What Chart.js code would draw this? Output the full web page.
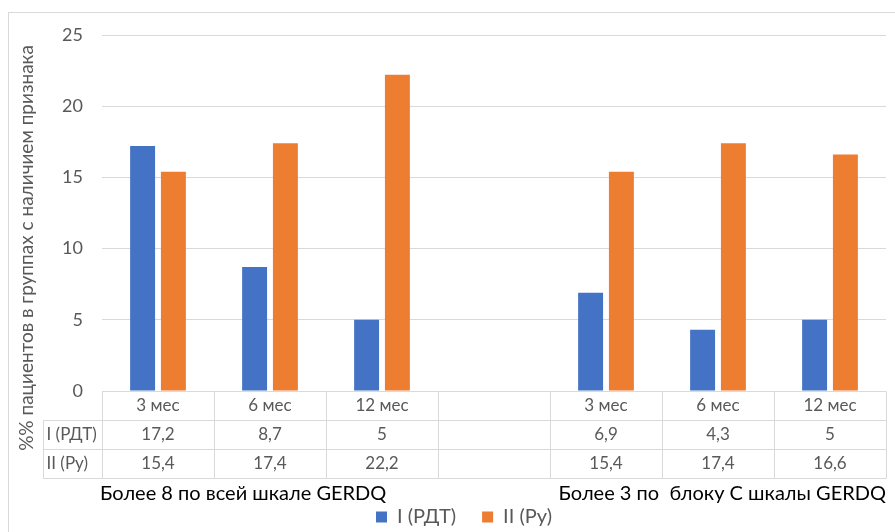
<!DOCTYPE html>
<html>
<head>
<meta charset="utf-8">
<script src="https://cdn.jsdelivr.net/npm/chart.js@4.4.1/dist/chart.umd.min.js"></script>
<style>
html, body { margin: 0; padding: 0; background: #fff; }
</style>
</head>
<body>
<canvas id="gerdq-chart" width="895" height="532"></canvas>
<script>
// data
const categories = ['3 мес', '6 мес', '12 мес', '', '3 мес', '6 мес', '12 мес'];
const groupLabels = ['Более 8 по всей шкале GERDQ', 'Более 3 по  блоку С шкалы GERDQ'];
const seriesNames = ['I (РДТ)', 'II (Ру)'];
const rdtValues = [17.2, 8.7, 5, null, 6.9, 4.3, 5];
const ruValues = [15.4, 17.4, 22.2, null, 15.4, 17.4, 16.6];
const yTicks = [0, 5, 10, 15, 20, 25];
const yTitle = '%% пациентов в группах с наличием признака';

const colors = ['#4472C4', '#ED7D31'];
const gridColor = '#d9d9d9';
const textColor = '#595959';
const fontFamily = 'Lato, "Noto Sans", sans-serif';

function fmt(v) {
  return v === null ? '' : String(v).replace('.', ',');
}

// draws the frame, the y title and the data table under the bars
const tablePlugin = {
  id: 'dataTable',
  beforeDraw(chart) {
    const ctx = chart.ctx;
    ctx.save();
    ctx.strokeStyle = gridColor;
    ctx.lineWidth = 1;
    ctx.strokeRect(8.5, 12.5, 900, 600);
    ctx.restore();
  },
  afterDraw(chart) {
    const ctx = chart.ctx;
    const xs = chart.scales.x;
    const area = chart.chartArea;
    const rowH = 29;
    const labelLeft = 43.5;
    const top = Math.round(area.bottom) + 0.5;
    const half = (xs.getPixelForValue(1) - xs.getPixelForValue(0)) / 2;
    const left = Math.round(area.left) + 0.5;
    const right = Math.round(area.right) + 0.5;

    ctx.save();
    ctx.strokeStyle = gridColor;
    ctx.lineWidth = 1;
    ctx.beginPath();
    // horizontal lines
    ctx.moveTo(left, top); ctx.lineTo(right, top);
    for (let r = 1; r <= 3; r++) {
      ctx.moveTo(labelLeft, top + rowH * r);
      ctx.lineTo(right, top + rowH * r);
    }
    // vertical lines
    ctx.moveTo(labelLeft, top + rowH); ctx.lineTo(labelLeft, top + rowH * 3);
    for (let i = 0; i <= categories.length; i++) {
      const px = Math.round(xs.getPixelForValue(Math.min(i, categories.length - 1)) + (i < categories.length ? -half : half)) + 0.5;
      ctx.moveTo(px, top); ctx.lineTo(px, top + rowH * 3);
    }
    ctx.stroke();

    ctx.fillStyle = textColor;
    ctx.font = '17px ' + fontFamily;
    ctx.textBaseline = 'middle';
    ctx.textAlign = 'center';
    const rows = [rdtValues, ruValues];
    categories.forEach((c, i) => {
      const cx = xs.getPixelForValue(i);
      ctx.fillText(c, cx, top + rowH / 2);
      rows.forEach((vals, r) => {
        ctx.fillText(fmt(vals[i]), cx, top + rowH * (r + 1) + rowH / 2);
      });
    });
    ctx.textAlign = 'left';
    seriesNames.forEach((n, r) => {
      ctx.fillText(n, labelLeft + 3, top + rowH * (r + 1) + rowH / 2);
    });

    // group labels under the table
    ctx.fillStyle = '#000';
    ctx.font = '20px ' + fontFamily;
    ctx.textAlign = 'left';
    ctx.fillText(groupLabels[0], area.left - 2, top + rowH * 3 + 15);
    ctx.textAlign = 'right';
    ctx.fillText(groupLabels[1], area.right, top + rowH * 3 + 15);

    // y axis title
    ctx.fillStyle = textColor;
    ctx.font = '19px ' + fontFamily;
    ctx.translate(27, 248);
    ctx.rotate(-Math.PI / 2);
    ctx.textAlign = 'center';
    ctx.fillText(yTitle, 0, 0);
    ctx.restore();
  }
};

const ctx = document.getElementById('gerdq-chart');

new Chart(ctx, {
  type: 'bar',
  data: {
    labels: categories,
    datasets: [
      {
        label: seriesNames[0],
        data: rdtValues,
        backgroundColor: colors[0],
        categoryPercentage: 0.55,
        barPercentage: 0.81
      },
      {
        label: seriesNames[1],
        data: ruValues,
        backgroundColor: colors[1],
        categoryPercentage: 0.55,
        barPercentage: 0.81
      }
    ]
  },
  options: {
    responsive: false,
    animation: false,
    layout: { padding: { left: 42, right: 9, top: 35, bottom: -5 } },
    plugins: {
      tooltip: { enabled: false },
      legend: {
        position: 'bottom',
        labels: {
          color: textColor,
          font: { family: fontFamily, size: 20 },
          boxWidth: 11,
          boxHeight: 11,
          padding: 26
        }
      }
    },
    scales: {
      x: {
        ticks: { display: false },
        grid: { display: false },
        border: { display: false },
        afterFit(scale) { scale.height = 90; }
      },
      y: {
        min: 0,
        max: 25,
        afterBuildTicks(scale) { scale.ticks = yTicks.map(v => ({ value: v })); },
        ticks: { padding: 19, color: textColor, font: { family: fontFamily, size: 18 } },
        grid: { color: gridColor, drawTicks: false },
        border: { display: false },
        afterFit(scale) { scale.width = 60; }
      }
    }
  },
  plugins: [tablePlugin]
});
</script>
</body>
</html>
